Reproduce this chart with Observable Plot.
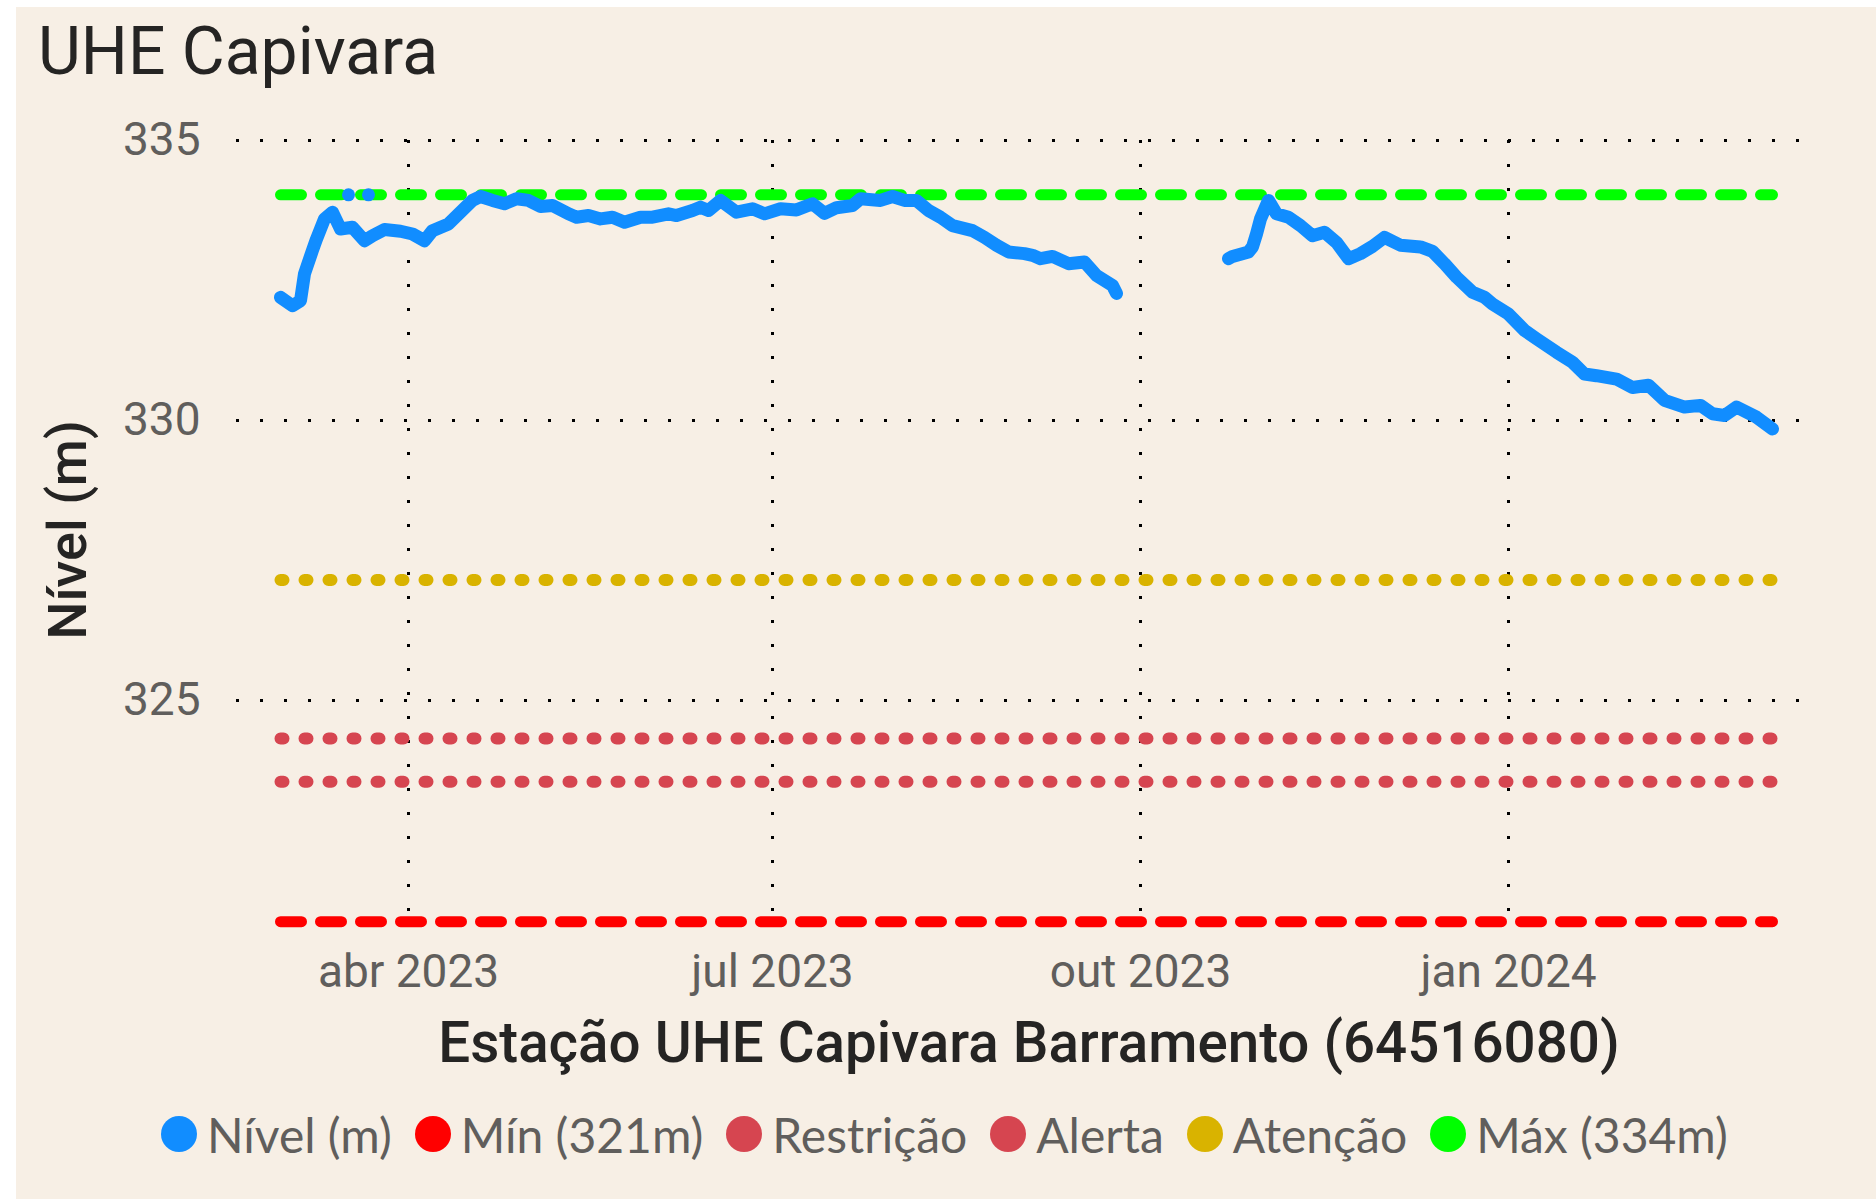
<!DOCTYPE html>
<html>
<head>
<meta charset="utf-8">
<script src="https://cdn.jsdelivr.net/npm/d3@7"></script>
<script src="https://cdn.jsdelivr.net/npm/@observablehq/plot@0.6"></script>
<style>
  html, body { margin: 0; padding: 0; background: #ffffff; }
  body { width: 1876px; height: 1199px; position: relative; overflow: hidden; }
  #panel { position: absolute; left: 16px; top: 7px; width: 1860px; height: 1192px; background: #F7EFE5; }
  #chart { position: absolute; left: 0; top: 0; }
  #title { position: absolute; left: 38px; top: 14px; font-family: Roboto, sans-serif; font-size: 66px; color: #252423; line-height: 76px; white-space: nowrap; }
  #xtitle { position: absolute; left: 0; width: 2058px; top: 1010px; text-align: center; font-family: Roboto, sans-serif; font-weight: 500; font-size: 56.5px; color: #252423; line-height: 66px; white-space: nowrap; }
  #ytitle { position: absolute; left: 68px; top: 530px; transform: translate(-50%, -50%) rotate(-90deg); font-family: Roboto, sans-serif; font-weight: 500; font-size: 54px; color: #252423; line-height: 60px; white-space: nowrap; }
  #legend { position: absolute; left: 161px; top: 1104px; height: 60px; display: flex; align-items: center; font-family: Lato, sans-serif; font-size: 48px; color: #605E5C; white-space: nowrap; }
  .item { display: flex; align-items: center; margin-right: 23px; }
  .sw { width: 36px; height: 36px; border-radius: 50%; margin-right: 10px; flex: none; }
</style>
</head>
<body>
<div id="panel"></div>
<div id="chart"></div>
<div id="title">UHE Capivara</div>
<div id="ytitle">Nível (m)</div>
<div id="xtitle">Estação UHE Capivara Barramento (64516080)</div>
<div id="legend"></div>
<script>
// ---- Data ----
const levelDates = [
  "2023-02-28","2023-03-03","2023-03-05","2023-03-06","2023-03-08","2023-03-09","2023-03-11","2023-03-13",
  "2023-03-15","2023-03-18","2023-03-21","2023-03-23","2023-03-26","2023-03-30","2023-04-02","2023-04-05",
  "2023-04-07","2023-04-11","2023-04-14","2023-04-17","2023-04-19","2023-04-22","2023-04-25","2023-04-28",
  "2023-05-01","2023-05-04","2023-05-07","2023-05-11","2023-05-13","2023-05-16","2023-05-19","2023-05-22",
  "2023-05-25","2023-05-29","2023-06-01","2023-06-05","2023-06-07","2023-06-11","2023-06-13","2023-06-15",
  "2023-06-18","2023-06-22","2023-06-26","2023-06-29","2023-07-03","2023-07-07","2023-07-11","2023-07-14",
  "2023-07-17","2023-07-21","2023-07-23","2023-07-28","2023-07-31","2023-08-03","2023-08-06","2023-08-09",
  "2023-08-12","2023-08-15","2023-08-20","2023-08-23","2023-08-26","2023-08-29","2023-09-02","2023-09-04",
  "2023-09-06","2023-09-09","2023-09-13","2023-09-17","2023-09-20","2023-09-24","2023-09-25",
  "2023-10-10",
  "2023-10-23","2023-10-24","2023-10-28","2023-10-29","2023-10-30","2023-10-31","2023-11-02","2023-11-04",
  "2023-11-07","2023-11-10","2023-11-13","2023-11-16","2023-11-19","2023-11-22","2023-11-25","2023-11-28",
  "2023-12-01","2023-12-05","2023-12-10","2023-12-13","2023-12-16","2023-12-19","2023-12-23","2023-12-26",
  "2023-12-28","2024-01-01","2024-01-05","2024-01-08","2024-01-13","2024-01-17","2024-01-20","2024-01-23",
  "2024-01-28","2024-02-01","2024-02-05","2024-02-09","2024-02-14","2024-02-18","2024-02-21","2024-02-24",
  "2024-02-27","2024-03-03","2024-03-07"
];
const levelValues = [
  332.20,332.05,332.14,332.62,333.04,333.24,333.60,333.72,
  333.42,333.45,333.21,333.30,333.41,333.38,333.33,333.21,
  333.39,333.51,333.72,333.93,334.00,333.93,333.87,333.96,
  333.93,333.82,333.84,333.69,333.63,333.66,333.60,333.63,
  333.54,333.63,333.63,333.69,333.66,333.75,333.81,333.75,
  333.93,333.72,333.78,333.69,333.78,333.76,333.87,333.70,
  333.80,333.84,333.96,333.93,334.00,333.93,333.93,333.75,
  333.63,333.48,333.39,333.27,333.13,333.01,332.98,332.95,
  332.89,332.93,332.80,332.83,332.59,332.41,332.27,
  null,
  332.89,332.93,333.01,333.10,333.33,333.60,333.93,333.69,
  333.63,333.48,333.30,333.36,333.18,332.89,332.98,333.11,
  333.27,333.13,333.10,333.02,332.80,332.56,332.29,332.20,
  332.08,331.90,331.61,331.46,331.22,331.04,330.83,330.80,
  330.74,330.59,330.63,330.36,330.24,330.27,330.12,330.09,
  330.24,330.06,329.85
];
// isolated readings shown as single points
const isolatedDates = ["2023-03-17", "2023-03-22"];
const isolatedValues = [334.03, 334.03];

// reference levels
const refNames  = ["Mín (321m)", "Restrição", "Alerta", "Atenção", "Máx (334m)"];
const refValues = [321.05, 324.32, 323.55, 327.15, 334.03];
const refColors = ["#FF0000", "#D64550", "#D64550", "#D9B300", "#00FF00"];
const refDash   = ["21,19", "3,21", "3,21", "3,21", "21,19"];

const legendNames  = ["Nível (m)", "Mín (321m)", "Restrição", "Alerta", "Atenção", "Máx (334m)"];
const legendColors = ["#118DFF", "#FF0000", "#D64550", "#D64550", "#D9B300", "#00FF00"];

const xTickDates  = ["2023-04-01", "2023-07-01", "2023-10-01", "2024-01-01"];
const xTickLabels = ["abr 2023", "jul 2023", "out 2023", "jan 2024"];
const yTicks = [325, 330, 335];
const xDomain = ["2023-02-17", "2024-03-16"];
const yDomain = [321, 335];

// ---- Build ----
const parse = s => new Date(s + "T00:00:00Z");
const series = levelDates.map((d, i) => ({date: parse(d), value: levelValues[i]}));
const isolated = isolatedDates.map((d, i) => ({date: parse(d), value: isolatedValues[i]}));
const tickDates = xTickDates.map(parse);
const firstDate = series[0].date, lastDate = series[series.length - 1].date;

const refMarks = refValues.map((v, i) =>
  Plot.line([{date: firstDate, value: v}, {date: lastDate, value: v}], {
    x: "date", y: "value", stroke: refColors[i], strokeWidth: refDash[i] === "3,21" ? 12 : 11,
    strokeDasharray: refDash[i], strokeLinecap: "round"
  })
);

const chart = Plot.plot({
  width: 1876,
  height: 1010,
  marginTop: 140,
  marginBottom: 86,
  marginLeft: 236,
  marginRight: 68,
  style: {background: "transparent", fontFamily: "Roboto, sans-serif", fontSize: "46px", color: "#605E5C", overflow: "visible"},
  x: {type: "utc", domain: xDomain.map(parse), ticks: tickDates,
      tickFormat: d => xTickLabels[tickDates.findIndex(t => +t === +d)],
      tickSize: 0, tickPadding: 30, label: null},
  y: {domain: yDomain, ticks: yTicks, tickSize: 0, tickPadding: 36, label: null},
  marks: [
    Plot.ruleY(yTicks, {stroke: "#000", strokeWidth: 3, strokeDasharray: "3,21"}),
    Plot.ruleX(tickDates, {stroke: "#000", strokeWidth: 3, strokeDasharray: "3,21"}),
    ...refMarks,
    Plot.line(series, {x: "date", y: "value", stroke: "#118DFF", strokeWidth: 13,
      strokeLinejoin: "round", strokeLinecap: "round"}),
    Plot.dot(isolated, {x: "date", y: "value", r: 6.5, fill: "#118DFF"})
  ]
});
document.getElementById("chart").appendChild(chart);

// legend
const legend = document.getElementById("legend");
legendNames.forEach((n, i) => {
  const item = document.createElement("div");
  item.className = "item";
  const sw = document.createElement("span");
  sw.className = "sw";
  sw.style.background = legendColors[i];
  const t = document.createElement("span");
  t.textContent = n;
  item.appendChild(sw);
  item.appendChild(t);
  legend.appendChild(item);
});
</script>
</body>
</html>
